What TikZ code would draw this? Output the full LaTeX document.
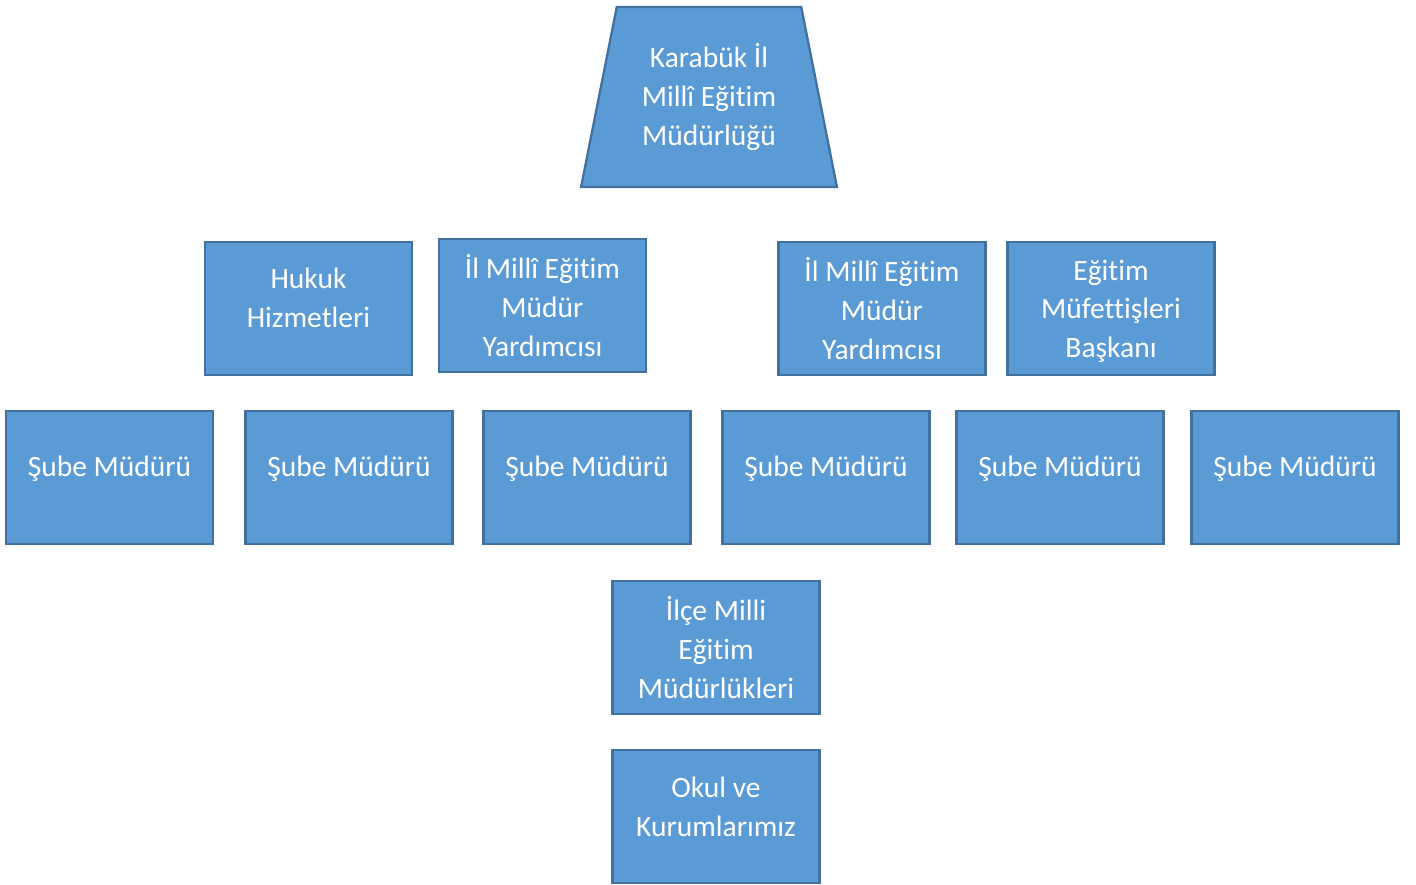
\documentclass[tikz,border=0pt]{standalone}
\usepackage{fontspec}
\setmainfont{Carlito}[Ligatures=NoCommon]
\usetikzlibrary{shapes.geometric}
\definecolor{boxfill}{HTML}{5B9BD5}
\definecolor{boxline}{HTML}{41719C}

\begin{document}
\begin{tikzpicture}[x=0.02cm,y=-0.02cm,
    unit/.style={draw=boxline,fill=boxfill,line width=1.3pt,text=white,align=center,
      font=\fontsize{16.8}{22}\selectfont,minimum width=4.14cm,minimum height=2.66cm,inner sep=0pt},
    topunit/.style={unit,trapezium,trapezium stretches=true,trapezium angle=76.3,
      minimum width=5.12cm,minimum height=3.6cm}]
    \useasboundingbox (0,0) rectangle (1416,885);
    \node[topunit] (mudurluk) at (709,97) {Karabük İl\\Millî Eğitim\\Müdürlüğü};
    \node[unit,text depth=12.4pt] (hukuk) at (308.5,308.5) {Hukuk\\Hizmetleri};
    \node[unit] (yard1) at (542.5,305.5) {İl Millî Eğitim\\Müdür\\Yardımcısı};
    \node[unit] (yard2) at (882,308.5) {İl Millî Eğitim\\Müdür\\Yardımcısı};
    \node[unit,text depth=0pt] (mufettis) at (1111,308.5) {Eğitim\\Müfettişleri\\Başkanı};
    \node[unit,text depth=12.4pt] (sube1) at (109.5,477.5) {Şube Müdürü};
    \node[unit,text depth=12.4pt] (sube2) at (349,477.5) {Şube Müdürü};
    \node[unit,text depth=12.4pt] (sube3) at (587,477.5) {Şube Müdürü};
    \node[unit,text depth=12.4pt] (sube4) at (826,477.5) {Şube Müdürü};
    \node[unit,text depth=12.4pt] (sube5) at (1060,477.5) {Şube Müdürü};
    \node[unit,text depth=12.4pt] (sube6) at (1295,477.5) {Şube Müdürü};
    \node[unit] (ilce) at (716,647.5) {İlçe Milli\\Eğitim\\Müdürlükleri};
    \node[unit,text depth=11.2pt] (okul) at (716,816.5) {Okul ve\\Kurumlarımız};
  \end{tikzpicture}
\end{document}
